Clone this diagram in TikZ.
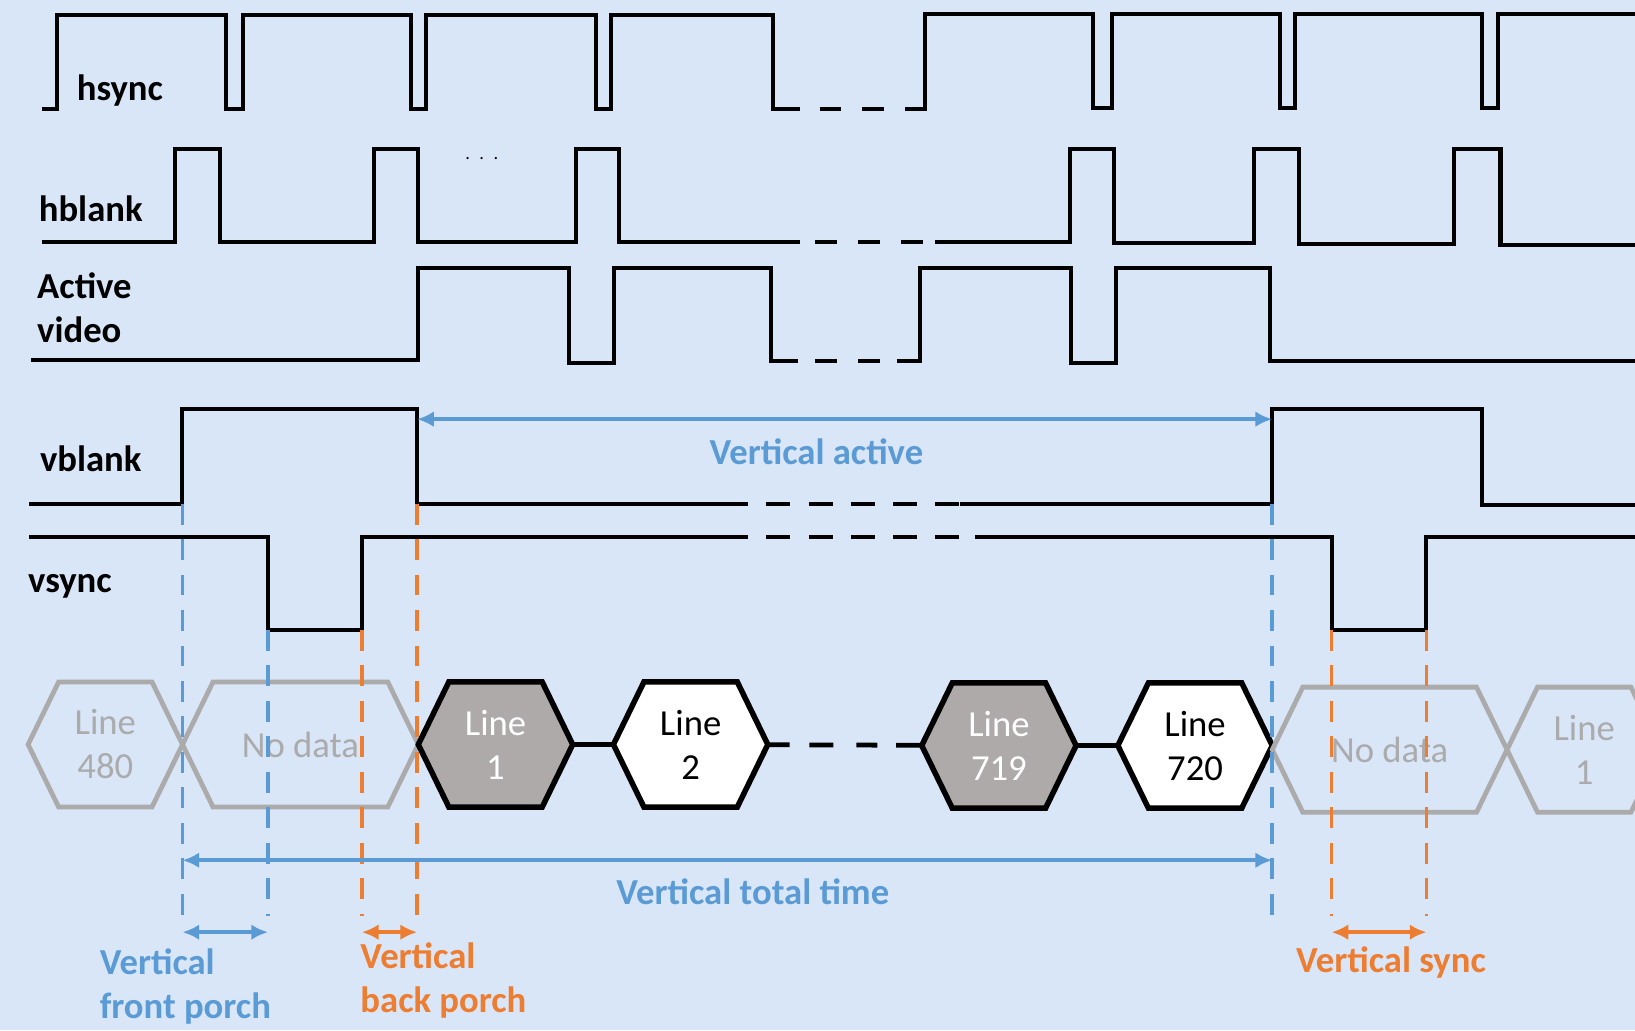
\documentclass[tikz,border=0pt]{standalone}
\usepackage{fontspec}
\setmainfont{Carlito}
\usepackage{xcolor}
\usetikzlibrary{arrows.meta,positioning,shapes.symbols}
\definecolor{VTBack}{HTML}{D9E6F8}
\definecolor{VTBlue}{HTML}{5B9BD5}
\definecolor{VTOrange}{HTML}{ED7D31}
\definecolor{VTGrey}{HTML}{ABABAB}
\definecolor{VTFill}{HTML}{AEAAAA}
\tikzset{
 wave/.style={line width=1.1pt},
 gapwave/.style={wave,dash pattern=on .21cm off .2cm},
 vgapwave/.style={wave,dash pattern=on .23cm off .175cm},
 siglabel/.style={font=\bfseries,inner sep=0pt,align=left},
 hexbox/.style={shape=signal,signal to=east and west,signal pointer angle=128,
  minimum width=1.48cm,minimum height=1.2cm,inner sep=0pt,outer sep=0pt,align=center},
 linehex/.style={hexbox,draw=black,line width=1.5pt},
 greyhex/.style={hexbox,draw=VTGrey,line width=1.3pt,text=VTGrey},
 guide/.style={line width=1pt,dash pattern=on .2cm off .14cm},
 span/.style={<->,line width=1pt},
 note/.style={font=\bfseries,inner sep=0pt,align=left},
}
\begin{document}
\begin{tikzpicture}[x=0.01cm,y=-0.01cm,>={Latex[length=1.6mm,width=1.5mm]}]
\useasboundingbox (0,0) rectangle (1568,988);
\clip (0,0) rectangle (1568,988);
\fill[VTBack] (0,0) rectangle (1568,988);

\node[siglabel] (hs) at (115,87) {hsync};
\node[siglabel] (hb) at (87,200) {hblank};
\node[siglabel,anchor=west] (av) at (35,295) {Active\\video};
\node[siglabel] (vb) at (87,440) {vblank};
\node[siglabel] (vs) at (67,562) {vsync};
\node[inner sep=0pt,font=\fontsize{5}{5}\selectfont] (dots) at (462,152) {.\hspace{2.6pt}.\hspace{2.6pt}.};

\draw[wave] (40,105) -- (55,105) -- (55,14) -- (217,14) -- (217,105) -- (233,105) -- (233,14) -- (394,14) -- (394,105) -- (409,105) -- (409,14) -- (572,14) -- (572,105) -- (586,105) -- (586,14) -- (741,14) -- (741,105) -- (767,105);
\draw[gapwave] (786,105) -- (887,105);
\draw[wave] (868,105) -- (887,105) -- (887,13) -- (1048,13) -- (1048,104) -- (1066,104) -- (1066,13) -- (1228,13) -- (1228,104) -- (1242,104) -- (1242,13) -- (1421,13) -- (1421,104) -- (1437,104) -- (1437,13) -- (1568,13);

\draw[wave] (40,232) -- (168,232) -- (168,143) -- (211,143) -- (211,232) -- (359,232) -- (359,143) -- (401,143) -- (401,232) -- (552,232) -- (552,143) -- (594,143) -- (594,232) -- (767,232);
\draw[gapwave] (782,232) -- (887,232);
\draw[wave] (897,232) -- (1026,232) -- (1026,143) -- (1068,143) -- (1068,233) -- (1203,233) -- (1203,143) -- (1246,143) -- (1246,234) -- (1394,234) -- (1394,143) -- (1439,143) -- (1439,235) -- (1568,235);

\draw[wave] (30,345) -- (401,345) -- (401,257) -- (546,257) -- (546,348) -- (589,348) -- (589,257) -- (739,257) -- (739,346) -- (765,346);
\draw[gapwave] (782,346) -- (880,346);
\draw[wave] (860,346) -- (882,346) -- (882,257) -- (1027,257) -- (1027,348) -- (1070,348) -- (1070,257) -- (1218,257) -- (1218,346) -- (1568,346);

\draw[wave] (28,483) -- (175,483) coordinate (vbup) -- (175,392) -- (400,392) -- (400,483) coordinate (vbdn) -- (717,483);
\draw[vgapwave] (735,483) -- (921,483);
\draw[wave] (921,483) -- (1220,483) coordinate (vbup2) -- (1220,392) -- (1421,392) -- (1421,484) -- (1568,484);

\draw[wave] (28,515) -- (257,515) -- (257,604) coordinate (vsdn) -- (347,604) coordinate (vsup) -- (347,515) -- (717,515);
\draw[vgapwave] (735,515) -- (921,515);
\draw[wave] (935,515) -- (1277,515) -- (1277,604) coordinate (vsdn2) -- (1368,604) coordinate (vsup2) -- (1368,515) -- (1568,515);

\node[greyhex] (l480) at (101,714) {Line\\480};
\node[greyhex,minimum width=2.26cm,right=0pt of l480] (nd1) {No data};
\node[linehex,fill=VTFill,text=white,right=0pt of nd1] (l1) {Line\\1};
\node[linehex,fill=white,right=.39cm of l1] (l2) {Line\\2};
\node[linehex,fill=VTFill,text=white] (l719) at (958,715) {Line\\719};
\node[linehex,fill=white,right=.4cm of l719] (l720) {Line\\720};
\node[greyhex,minimum width=2.25cm,right=0pt of l720,yshift=-.04cm] (nd2) {No data};
\node[greyhex,right=0pt of nd2] (l1r) {Line\\1};
\draw[wave,line width=1.3pt] (l1) -- (l2);
\draw[wave,line width=1.3pt,dash pattern=on .21cm off .19cm on .23cm off .22cm on .2cm off .18cm on .4cm] (l2) -- (l719);
\draw[wave,line width=1.3pt] (l719) -- (l720);

\coordinate (gend) at (0,878);
\coordinate (acty) at (0,402);
\coordinate (toty) at (0,825);
\coordinate (pory) at (0,894);
\draw[guide,VTBlue] (vbup) -- (vbup |- gend);
\draw[guide,VTBlue] (vsdn) -- (vsdn |- gend);
\draw[guide,VTOrange] (vsup) -- (vsup |- gend);
\draw[guide,VTOrange] (vbdn) -- (vbdn |- gend);
\draw[guide,VTBlue] (vbup2) -- (vbup2 |- gend);
\draw[guide,VTOrange] (vsdn2) -- (vsdn2 |- gend);
\draw[guide,VTOrange] (vsup2) -- (vsup2 |- gend);

\draw[span,VTBlue] (vbdn |- acty) -- (vbup2 |- acty);
\draw[span,VTBlue] (vbup |- toty) -- (vbup2 |- toty);
\draw[span,VTBlue] (vbup |- pory) -- (vsdn |- pory);
\draw[span,VTOrange] (vsup |- pory) -- (vbdn |- pory);
\draw[span,VTOrange] (vsdn2 |- pory) -- (vsup2 |- pory);

\node[note,text=VTBlue] (vact) at (783,433) {Vertical active};
\node[note,text=VTBlue] (vtot) at (722,855) {Vertical total time};
\node[note,text=VTBlue,anchor=west] (vfp) at (95,946) {Vertical\\front porch};
\node[note,text=VTOrange,anchor=west] (vbp) at (345,940) {Vertical\\back porch};
\node[note,text=VTOrange] (vsy) at (1334,923) {Vertical sync};
\end{tikzpicture}
\end{document}
